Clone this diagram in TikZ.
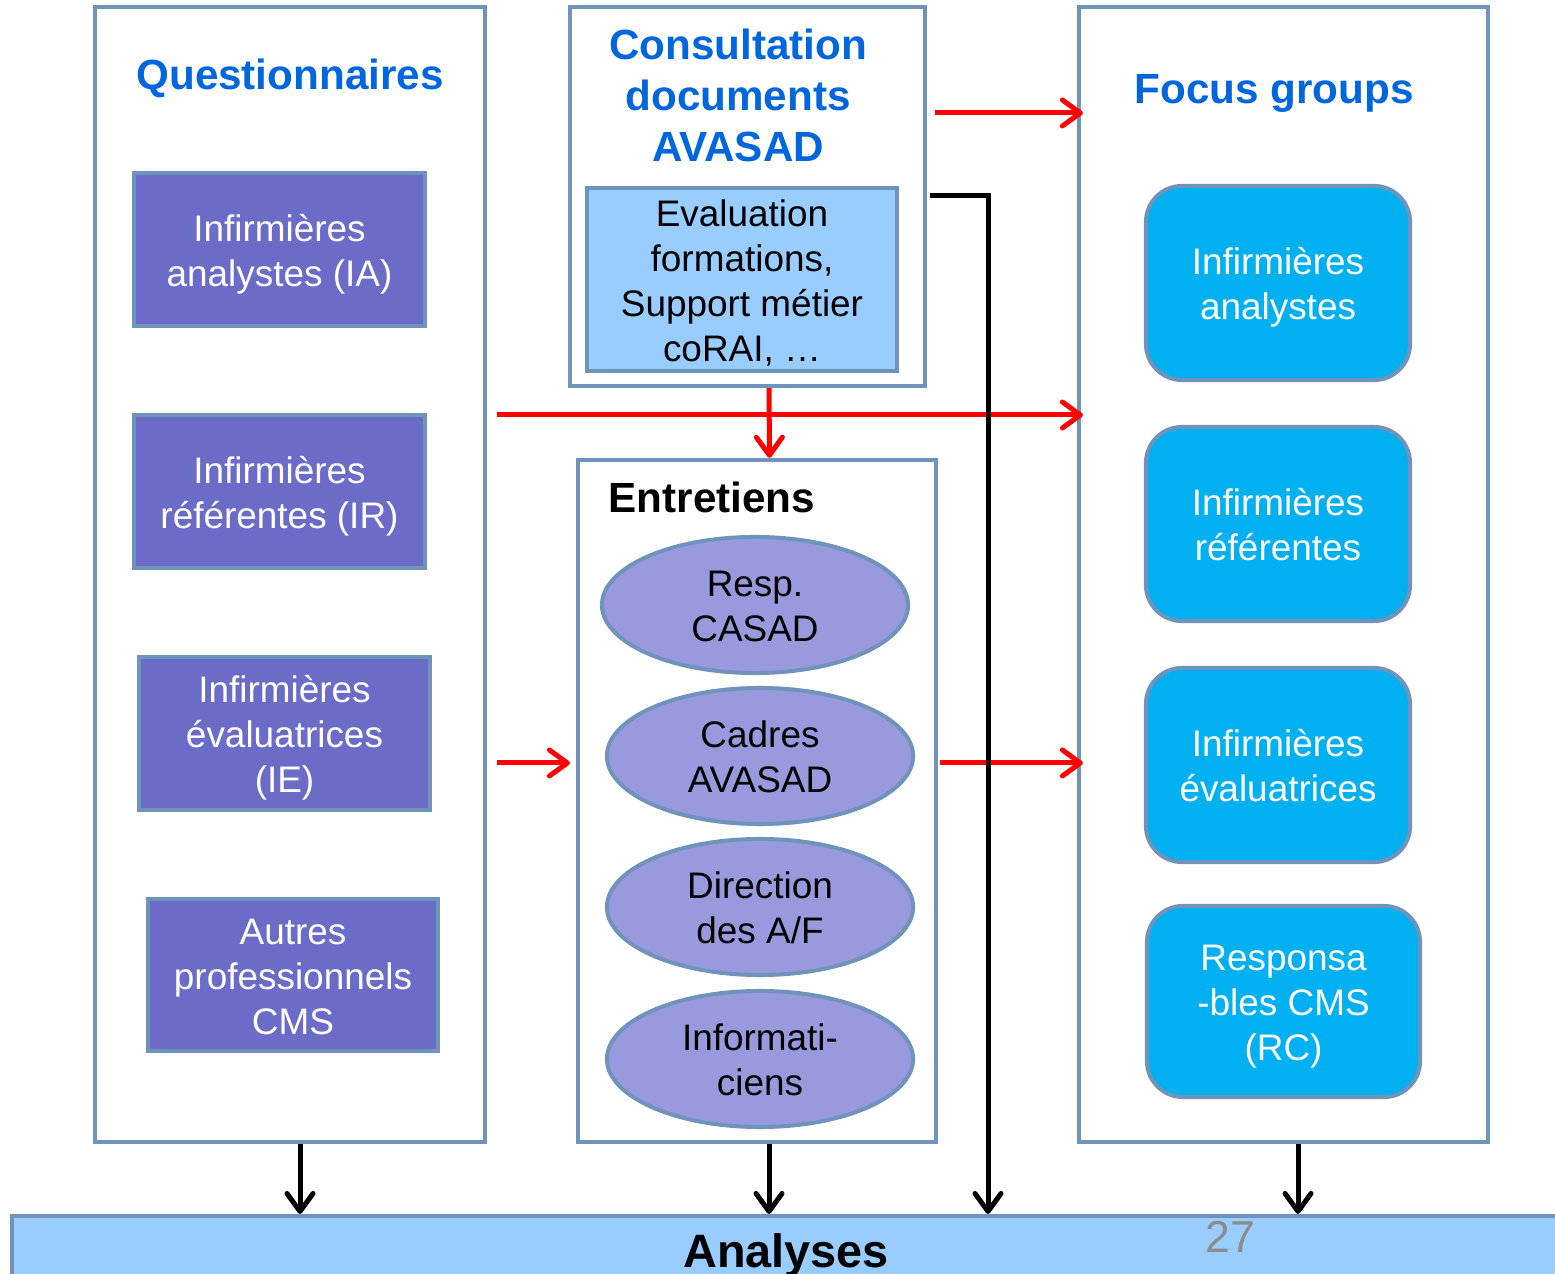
\documentclass[tikz,border=0pt]{standalone}
\usepackage{fontspec}
\setmainfont{Liberation Sans}
\usetikzlibrary{arrows.meta,shapes.geometric}
\definecolor{bordc}{RGB}{112,147,187}
\definecolor{purp}{RGB}{107,107,200}
\definecolor{lilac}{RGB}{153,153,221}
\definecolor{skyb}{RGB}{153,204,255}
\definecolor{cyanb}{RGB}{0,176,240}
\definecolor{titleb}{RGB}{0,102,221}
\definecolor{redar}{RGB}{255,0,0}
\newcommand{\bodyfont}{\fontsize{10.5}{12.8}\selectfont}
\newcommand{\titlefont}{\fontsize{12}{14.5}\selectfont\bfseries}
% struts that give every multi-line label the same top and bottom
\newcommand{\topfix}{\rule{0pt}{10.5pt}}
\newcommand{\botfix}{\rule[-2.5pt]{0pt}{0pt}}
\begin{document}
\begin{tikzpicture}[x=0.01cm,y=-0.01cm,
  frame/.style={draw=bordc,line width=0.04cm,fill=white,inner sep=0pt},
  pbox/.style={draw=bordc,line width=0.04cm,fill=purp,text=white,align=center,font=\bodyfont,inner sep=0pt,minimum width=2.91cm,minimum height=1.53cm},
  oval/.style={ellipse,draw=bordc,line width=0.04cm,fill=lilac,align=center,font=\bodyfont,inner sep=0pt,minimum width=3.06cm,minimum height=1.36cm},
  fbox/.style={draw=bordc,line width=0.04cm,fill=cyanb,text=white,align=center,font=\bodyfont,rounded corners=0.36cm,inner sep=0pt,minimum width=2.64cm,minimum height=1.94cm},
  ttl/.style={text=titleb,font=\titlefont,align=center,inner sep=0pt},
  barb/.style={-{Straight Barb[length=0.18cm,width=0.26cm,line cap=round,line join=round]}},
  redarrow/.style={draw=redar,line width=0.05cm,barb},
  blkarrow/.style={draw=black,line width=0.05cm,barb}]
\useasboundingbox (0,0) rectangle (1555,1274);

% column frames
\node[frame,minimum width=3.9cm,minimum height=11.35cm] (quest) at (290,574.5) {};
\node[frame,minimum width=3.55cm,minimum height=3.79cm] (cons) at (747.5,196.5) {};
\node[frame,minimum width=3.58cm,minimum height=6.82cm] (entr) at (757,801) {};
\node[frame,minimum width=4.09cm,minimum height=11.35cm] (focus) at (1283.5,574.5) {};

% bottom bar
\node[draw=bordc,line width=0.04cm,fill=skyb,minimum width=15.48cm,minimum height=0.78cm,inner sep=0pt,font=\fontsize{13.3}{15}\selectfont\bfseries] (ana) at (786,1255) {Analyses};
\node[text=gray!90,font=\fontsize{12.7}{14}\selectfont,inner sep=0pt] (page) at (1230,1237) {27};

% titles
\node[ttl] (qtitle) at (290,78.5) {Questionnaires};
\node[ttl] (ctitle) at (738,95) {Consultation\\documents\\AVASAD};
\node[ttl] (ftitle) at (1274,93.5) {Focus groups};
\node[font=\titlefont,anchor=west,inner sep=0pt] (etitle) at (608,497) {Entretiens};

% questionnaires
\node[pbox] (qia) at (279.5,249.5) {\topfix Infirmières\\analystes (IA)\botfix};
\node[pbox] (qir) at (279.5,491.5) {\topfix Infirmières\\référentes (IR)\botfix};
\node[pbox] (qie) at (284.5,733.5) {\topfix Infirmières\\évaluatrices\\(IE)\botfix};
\node[pbox,minimum width=2.9cm,minimum height=1.52cm] (qau) at (293,975) {\topfix Autres\\professionnels\\CMS\botfix};

% documents
\node[draw=bordc,line width=0.04cm,fill=skyb,align=center,font=\bodyfont,inner sep=0pt,minimum width=3.1cm,minimum height=1.83cm] (eval) at (742,279.5) {\topfix Evaluation\\formations,\\Support métier\\coRAI, …\botfix};

% interviews
\node[oval] (e1) at (755,605) {\topfix Resp.\\CASAD\botfix};
\node[oval] (e2) at (760,756) {\topfix Cadres\\AVASAD\botfix};
\node[oval] (e3) at (760,907) {\topfix Direction\\des A/F\botfix};
\node[oval] (e4) at (760,1059) {\topfix Informati-\\ciens\botfix};

% focus groups
\node[fbox] (f1) at (1278,283) {\topfix Infirmières\\analystes\botfix};
\node[fbox] (f2) at (1278,524) {\topfix Infirmières\\référentes\botfix};
\node[fbox] (f3) at (1278,765) {\topfix Infirmières\\évaluatrices\botfix};
\node[fbox,minimum width=2.73cm,minimum height=1.91cm] (f4) at (1283.5,1001.5) {\topfix Responsa\\-bles CMS\\(RC)\botfix};

% red flows
\coordinate (r1) at (935,113);
\coordinate (r2) at (497,415);
\coordinate (r3) at (497,763);
\draw[redarrow] (r1) -- ([xshift=0.06cm]focus.west |- r1);
\draw[redarrow] (r2) -- ([xshift=0.06cm]focus.west |- r2);
\draw[redarrow] ([xshift=0.215cm]cons.south) -- ([xshift=0.125cm]entr.north);
\draw[redarrow] (r3) -- ([xshift=-0.06cm]entr.west |- r3);
\draw[redarrow] ([xshift=0.02cm]entr.east |- r3) -- ([xshift=0.06cm]focus.west |- r3);

% black flows to the analysis
\coordinate (k1) at (988,196);
\draw[blkarrow] ([xshift=0.03cm]cons.east |- k1) -- (k1) -- (k1 |- ana.north);
\draw[blkarrow] ([xshift=0.1cm]quest.south) -- ([xshift=0.1cm]quest.south |- ana.north);
\draw[blkarrow] ([xshift=0.12cm]entr.south) -- ([xshift=0.12cm]entr.south |- ana.north);
\draw[blkarrow] ([xshift=0.145cm]focus.south) -- ([xshift=0.145cm]focus.south |- ana.north);
\end{tikzpicture}
\end{document}
